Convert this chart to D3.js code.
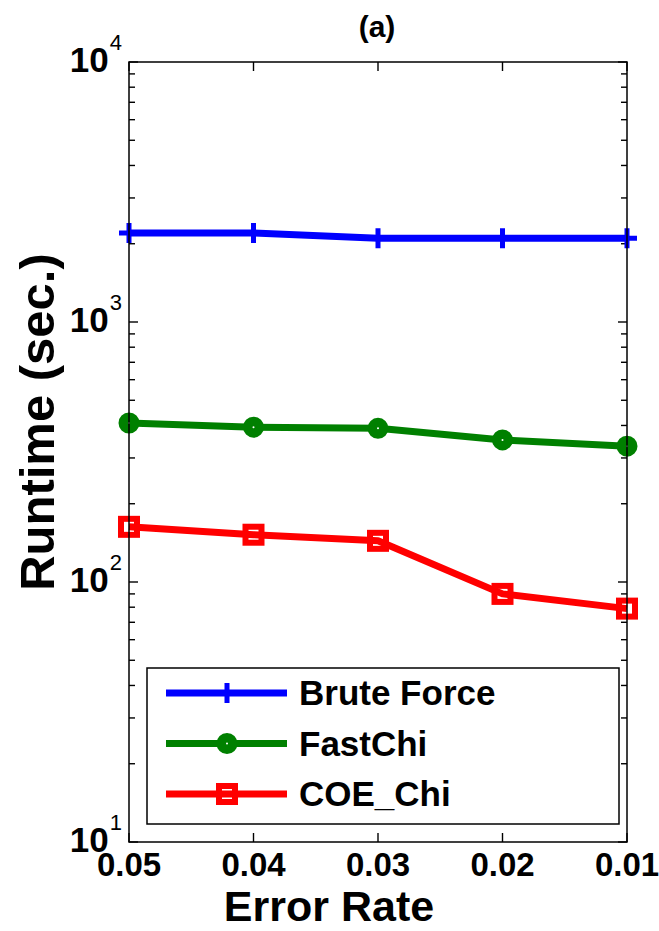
<!DOCTYPE html>
<html>
<head>
<meta charset="utf-8">
<script src="https://cdn.jsdelivr.net/npm/d3@7"></script>
<style>
  body { margin: 0; background: #fff; }
  text { font-family: Arial, "Liberation Sans", sans-serif; }
</style>
</head>
<body>
<div id="chart"></div>
<script>
const errorRates = [0.05, 0.04, 0.03, 0.02, 0.01];
const bruteForce = [2200, 2200, 2100, 2100, 2100];
const fastChi = [409, 394, 390, 352, 333];
const coeChi = [163, 152, 144, 90, 79];
const seriesNames = ["Brute Force", "FastChi", "COE_Chi"];
const xTicks = [0.05, 0.04, 0.03, 0.02, 0.01];
const yDecades = [1, 2, 3, 4];

const w = 659, h = 931;
const padL = 129, padR = 627, padT = 62, padB = 842;

const svg = d3.select("#chart").append("svg")
  .attr("width", w).attr("height", h);

const x = d3.scaleLinear().domain([0.05, 0.01]).range([padL, padR]);
const y = d3.scaleLog().domain([10, 10000]).range([padB, padT]);

// minor + major ticks on left and right
const minor = [];
for (let e = 1; e < 4; e++) for (let m = 2; m <= 9; m++) minor.push(m * Math.pow(10, e));

const g = svg.append("g").attr("stroke", "#000").attr("stroke-width", 1.4);
minor.forEach(v => {
  g.append("line").attr("x1", padL).attr("x2", padL + 6).attr("y1", y(v)).attr("y2", y(v));
  g.append("line").attr("x1", padR).attr("x2", padR - 6).attr("y1", y(v)).attr("y2", y(v));
});
yDecades.forEach(e => {
  const v = Math.pow(10, e);
  g.append("line").attr("x1", padL).attr("x2", padL + 9).attr("y1", y(v)).attr("y2", y(v));
  g.append("line").attr("x1", padR).attr("x2", padR - 9).attr("y1", y(v)).attr("y2", y(v));
});
xTicks.forEach(t => {
  g.append("line").attr("x1", x(t)).attr("x2", x(t)).attr("y1", padB).attr("y2", padB - 9);
  g.append("line").attr("x1", x(t)).attr("x2", x(t)).attr("y1", padT).attr("y2", padT + 9);
});

// y tick labels 10^n
yDecades.forEach(e => {
  const t = svg.append("text")
    .attr("x", 122).attr("y", y(Math.pow(10, e)) + 10)
    .attr("text-anchor", "end")
    .attr("font-size", 35).attr("font-weight", "bold");
  t.append("tspan").text("10");
  t.append("tspan").attr("dx", 1).attr("dy", -22).attr("font-size", 22)
    .attr("font-weight", "normal").text(e);
});

// x tick labels
xTicks.forEach(t => {
  svg.append("text")
    .attr("x", x(t)).attr("y", 876)
    .attr("text-anchor", "middle")
    .attr("font-size", 33).attr("font-weight", "bold")
    .text(t.toFixed(2));
});

// axis titles
svg.append("text").attr("x", 329).attr("y", 921)
  .attr("text-anchor", "middle").attr("font-size", 43).attr("font-weight", "bold")
  .text("Error Rate");
svg.append("text")
  .attr("transform", "translate(54,422) rotate(-90)")
  .attr("text-anchor", "middle").attr("font-size", 49).attr("font-weight", "bold")
  .text("Runtime (sec.)");
svg.append("text").attr("x", 377).attr("y", 37)
  .attr("text-anchor", "middle").attr("font-size", 30).attr("font-weight", "bold")
  .text("(a)");

// series
const series = [
  { name: seriesNames[0], values: bruteForce, color: "#0000ff", marker: "plus" },
  { name: seriesNames[1], values: fastChi, color: "#008000", marker: "circle" },
  { name: seriesNames[2], values: coeChi, color: "#ff0000", marker: "square" }
];

function drawMarker(sel, type, color, cx, cy) {
  if (type === "plus") {
    sel.append("path")
      .attr("d", `M${cx - 10},${cy}H${cx + 10}M${cx},${cy - 10}V${cy + 10}`)
      .attr("stroke", color).attr("stroke-width", 5).attr("fill", "none");
  } else if (type === "circle") {
    sel.append("circle").attr("cx", cx).attr("cy", cy).attr("r", 7.5)
      .attr("stroke", color).attr("stroke-width", 6).attr("fill", color);
    sel.append("circle").attr("cx", cx).attr("cy", cy).attr("r", 1)
      .attr("fill", "#fff");
  } else {
    sel.append("rect").attr("x", cx - 8).attr("y", cy - 8).attr("width", 16).attr("height", 16)
      .attr("stroke", color).attr("stroke-width", 6).attr("fill", "none");
  }
}

const line = d3.line().x(d => x(d[0])).y(d => y(d[1]));
series.forEach(s => {
  const pts = errorRates.map((r, i) => [r, s.values[i]]);
  svg.append("path").datum(pts)
    .attr("d", line)
    .attr("fill", "none").attr("stroke", s.color).attr("stroke-width", 7)
    .attr("stroke-linejoin", "round");
  const mg = svg.append("g");
  pts.forEach(p => drawMarker(mg, s.marker, s.color, x(p[0]), y(p[1])));
});

// legend
const lg = svg.append("g");
lg.append("rect").attr("x", 147).attr("y", 668).attr("width", 472).attr("height", 156)
  .attr("fill", "#fff").attr("stroke", "#000").attr("stroke-width", 1.5);
series.forEach((s, i) => {
  const ly = 693 + i * 50.5;
  lg.append("line").attr("x1", 166).attr("x2", 287).attr("y1", ly).attr("y2", ly)
    .attr("stroke", s.color).attr("stroke-width", 7);
  drawMarker(lg, s.marker, s.color, 227, ly);
  lg.append("text").attr("x", 299).attr("y", ly + 12)
    .attr("font-size", 35).attr("font-weight", "bold").text(s.name);
});

// axes box on top
svg.append("rect").attr("x", padL).attr("y", padT)
  .attr("width", padR - padL).attr("height", padB - padT)
  .attr("fill", "none").attr("stroke", "#000").attr("stroke-width", 1.5);
</script>
</body>
</html>
